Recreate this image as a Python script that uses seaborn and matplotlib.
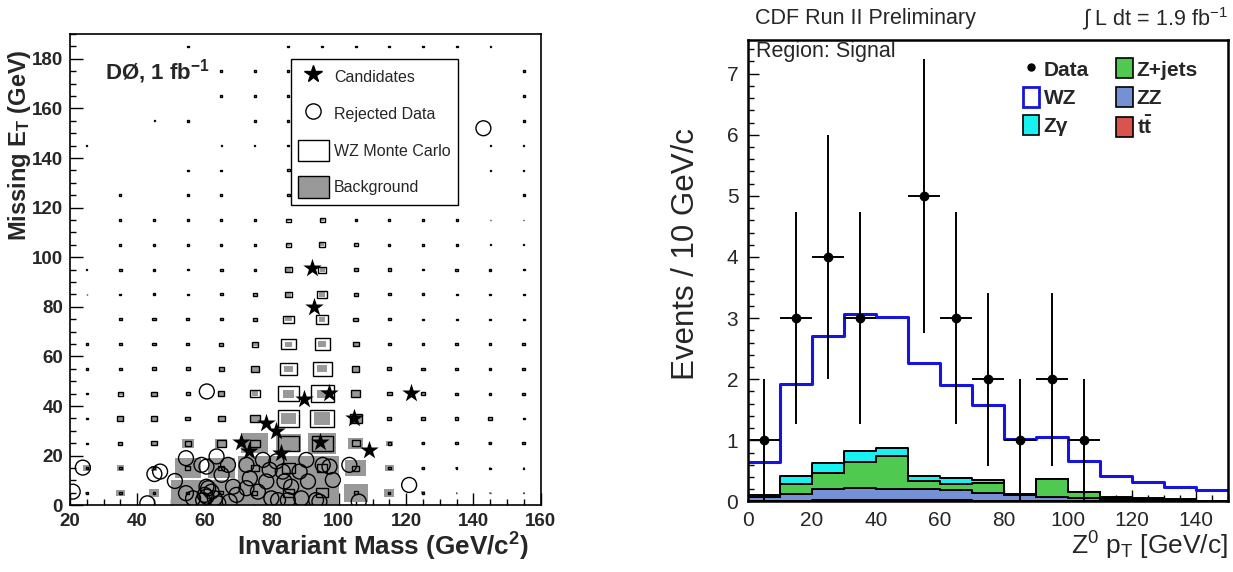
import numpy as np
import pandas as pd
import matplotlib
matplotlib.use("Agg")
import matplotlib.pyplot as plt
from matplotlib.lines import Line2D
from matplotlib.patches import Patch
from matplotlib.ticker import MultipleLocator
import seaborn as sns

# ---------------------------------------------------------------- data ----
# Left: D0 missing E_T vs invariant mass (10 GeV x 10 GeV cells)
mass_centers = [25, 35, 45, 55, 65, 75, 85, 95, 105, 115, 125, 135, 145, 155]
met_centers = [5, 15, 25, 35, 45, 55, 65, 75, 85, 95, 105, 115, 125, 135,
               145, 155, 165, 175, 185]

# background content per cell (relative to the largest cell), rows = MET bins
bkg_content = [
    [0.08, 0.25, 0.30, 1.00, 1.00, 1.00, 1.00, 1.00, 0.72, 0.30, 0.12, 0.05, 0.05, 0.05],
    [0.25, 0.22, 0.20, 0.78, 0.80, 1.00, 1.00, 1.00, 0.64, 0.25, 0.12, 0.08, 0.06, 0.06],
    [0.06, 0.12, 0.16, 0.35, 0.37, 0.80, 0.72, 0.84, 0.45, 0.20, 0.10, 0.10, 0.10, 0.10],
    [0.06, 0.18, 0.18, 0.14, 0.20, 0.30, 0.45, 0.49, 0.35, 0.12, 0.10, 0.10, 0.10, 0.06],
    [0.06, 0.14, 0.16, 0.12, 0.18, 0.20, 0.32, 0.33, 0.27, 0.14, 0.10, 0.08, 0.08, 0.08],
    [0.06, 0.08, 0.12, 0.12, 0.16, 0.22, 0.25, 0.28, 0.22, 0.12, 0.10, 0.08, 0.08, 0.08],
    [0.06, 0.08, 0.10, 0.10, 0.12, 0.18, 0.20, 0.22, 0.17, 0.10, 0.08, 0.08, 0.08, 0.08],
    [0.00, 0.08, 0.10, 0.08, 0.10, 0.12, 0.18, 0.20, 0.14, 0.08, 0.06, 0.06, 0.06, 0.06],
    [0.02, 0.06, 0.08, 0.06, 0.08, 0.10, 0.17, 0.17, 0.12, 0.08, 0.08, 0.06, 0.05, 0.06],
    [0.03, 0.08, 0.08, 0.06, 0.08, 0.08, 0.15, 0.15, 0.12, 0.10, 0.06, 0.08, 0.08, 0.06],
    [0.00, 0.06, 0.06, 0.06, 0.06, 0.06, 0.10, 0.12, 0.10, 0.06, 0.06, 0.06, 0.03, 0.03],
    [0.00, 0.06, 0.06, 0.06, 0.06, 0.06, 0.08, 0.10, 0.06, 0.06, 0.06, 0.06, 0.03, 0.03],
    [0.00, 0.06, 0.00, 0.06, 0.06, 0.00, 0.08, 0.06, 0.06, 0.06, 0.06, 0.00, 0.00, 0.06],
    [0.00, 0.00, 0.00, 0.06, 0.06, 0.00, 0.06, 0.00, 0.00, 0.00, 0.00, 0.00, 0.03, 0.03],
    [0.03, 0.00, 0.00, 0.00, 0.03, 0.03, 0.06, 0.00, 0.00, 0.00, 0.00, 0.00, 0.03, 0.03],
    [0.00, 0.00, 0.03, 0.06, 0.00, 0.06, 0.06, 0.00, 0.00, 0.00, 0.00, 0.00, 0.00, 0.06],
    [0.00, 0.00, 0.00, 0.00, 0.06, 0.06, 0.06, 0.00, 0.00, 0.00, 0.00, 0.00, 0.00, 0.06],
    [0.00, 0.00, 0.00, 0.00, 0.06, 0.06, 0.06, 0.00, 0.00, 0.00, 0.00, 0.00, 0.00, 0.06],
    [0.00, 0.00, 0.00, 0.06, 0.00, 0.00, 0.06, 0.06, 0.06, 0.06, 0.06, 0.06, 0.03, 0.00],
]

# WZ Monte Carlo content per cell (relative to the largest cell)
wz_content = [
    [0.05, 0.08, 0.08, 0.10, 0.12, 0.15, 0.35, 0.37, 0.12, 0.06, 0.05, 0.03, 0.03, 0.03],
    [0.06, 0.08, 0.08, 0.15, 0.18, 0.25, 0.40, 0.30, 0.20, 0.08, 0.06, 0.05, 0.04, 0.04],
    [0.06, 0.12, 0.16, 0.18, 0.28, 0.30, 0.62, 0.62, 0.25, 0.10, 0.08, 0.08, 0.08, 0.08],
    [0.06, 0.18, 0.18, 0.14, 0.20, 0.32, 0.65, 0.72, 0.35, 0.12, 0.10, 0.10, 0.10, 0.06],
    [0.06, 0.16, 0.16, 0.12, 0.18, 0.28, 0.63, 0.68, 0.27, 0.14, 0.10, 0.08, 0.08, 0.08],
    [0.06, 0.08, 0.12, 0.12, 0.16, 0.22, 0.51, 0.57, 0.22, 0.12, 0.10, 0.08, 0.08, 0.08],
    [0.06, 0.08, 0.10, 0.10, 0.12, 0.20, 0.42, 0.45, 0.17, 0.10, 0.08, 0.08, 0.08, 0.08],
    [0.00, 0.08, 0.10, 0.08, 0.10, 0.12, 0.30, 0.35, 0.14, 0.08, 0.06, 0.06, 0.06, 0.06],
    [0.02, 0.06, 0.08, 0.06, 0.08, 0.10, 0.22, 0.29, 0.12, 0.08, 0.08, 0.06, 0.05, 0.06],
    [0.03, 0.08, 0.08, 0.06, 0.08, 0.08, 0.18, 0.24, 0.12, 0.10, 0.06, 0.08, 0.08, 0.06],
    [0.00, 0.06, 0.06, 0.06, 0.06, 0.06, 0.15, 0.20, 0.12, 0.06, 0.06, 0.06, 0.03, 0.03],
    [0.00, 0.06, 0.06, 0.06, 0.06, 0.06, 0.12, 0.15, 0.06, 0.06, 0.06, 0.06, 0.03, 0.03],
    [0.00, 0.06, 0.00, 0.06, 0.06, 0.00, 0.10, 0.06, 0.06, 0.06, 0.06, 0.00, 0.00, 0.06],
    [0.00, 0.00, 0.00, 0.06, 0.06, 0.00, 0.08, 0.00, 0.00, 0.00, 0.00, 0.00, 0.03, 0.03],
    [0.03, 0.00, 0.00, 0.00, 0.03, 0.03, 0.06, 0.00, 0.00, 0.00, 0.00, 0.00, 0.03, 0.03],
    [0.00, 0.00, 0.03, 0.06, 0.00, 0.06, 0.06, 0.00, 0.00, 0.00, 0.00, 0.00, 0.00, 0.06],
    [0.00, 0.00, 0.00, 0.00, 0.06, 0.06, 0.06, 0.00, 0.00, 0.00, 0.00, 0.00, 0.00, 0.06],
    [0.00, 0.00, 0.00, 0.00, 0.06, 0.06, 0.06, 0.00, 0.00, 0.00, 0.00, 0.00, 0.00, 0.06],
    [0.00, 0.00, 0.00, 0.06, 0.00, 0.00, 0.06, 0.06, 0.06, 0.06, 0.06, 0.06, 0.03, 0.00],
]

# selected candidates (mass, missing E_T)
cand_mass = [92.0, 92.7, 89.6, 97.2, 121.6, 104.4, 78.4, 81.4, 71.0, 73.3, 82.7, 94.4, 109.1]
cand_met = [95.5, 80.0, 42.9, 45.1, 45.3, 35.0, 33.2, 30.0, 25.7, 21.7, 21.0, 25.7, 22.4]

# rejected events (mass, missing E_T)
rej_mass = [143.0, 60.7, 120.9, 23.8, 20.8, 43.0, 45.1, 46.8, 54.5, 51.2, 59.1,
            54.5, 56.6, 60.6, 60.6, 59.6, 63.6, 60.6, 67.0, 65.1, 61.1, 62.1,
            60.1, 63.1, 64.1, 68.5, 69.5, 67.5, 72.5, 73.5, 72.5, 75.9, 77.4,
            79.4, 78.4, 79.9, 81.9, 81.4, 83.3, 83.8, 85.8, 84.8, 88.3, 90.3,
            88.8, 90.8, 93.2, 95.2, 97.2, 98.2, 94.2, 103.1, 105.9]
rej_met = [152.0, 45.9, 8.2, 15.2, 5.5, 0.8, 12.6, 13.6, 19.0, 9.8, 16.3,
           4.9, 2.8, 7.5, 3.5, 2.1, 19.7, 15.6, 16.3, 12.3, 6.9, 5.5,
           4.2, 2.8, 0.8, 7.5, 4.2, 1.5, 16.3, 10.9, 6.9, 5.5, 18.3,
           14.3, 9.6, 2.8, 2.1, 17.7, 13.6, 9.6, 7.5, 2.1, 13.6, 18.3,
           2.8, 9.6, 2.1, 16.3, 15.6, 10.2, 1.5, 16.3, 1.5]

# Right: CDF Z0 pT in the signal region, 10 GeV/c bins from 0 to 150
pt_edges = [0, 10, 20, 30, 40, 50, 60, 70, 80, 90, 100, 110, 120, 130, 140, 150]
pt_centers = [5, 15, 25, 35, 45, 55, 65, 75, 85, 95, 105, 115, 125, 135, 145]
wz_signal = [0.65, 1.93, 2.70, 3.06, 3.01, 2.26, 1.90, 1.58, 1.02, 1.05, 0.67, 0.42, 0.32, 0.23, 0.18]
zgamma = [0.03, 0.14, 0.17, 0.17, 0.13, 0.07, 0.10, 0.05, 0.01, 0.00, 0.00, 0.01, 0.01, 0.01, 0.00]
zjets = [0.01, 0.15, 0.26, 0.43, 0.54, 0.14, 0.10, 0.165, 0.01, 0.29, 0.10, 0.03, 0.02, 0.01, 0.00]
zz = [0.06, 0.12, 0.17, 0.19, 0.18, 0.17, 0.16, 0.125, 0.09, 0.07, 0.04, 0.03, 0.02, 0.02, 0.00]
ttbar = [0.01, 0.01, 0.03, 0.03, 0.03, 0.03, 0.02, 0.01, 0.01, 0.01, 0.01, 0.00, 0.00, 0.00, 0.00]
data_counts = [1, 3, 4, 3, 0, 5, 3, 2, 1, 2, 1, 0, 0, 0, 0]

# --------------------------------------------------------------- style ----
sns.set_theme(style="ticks")
plt.rcParams["font.family"] = ["Liberation Sans", "DejaVu Sans"]
plt.rcParams["mathtext.fontset"] = "custom"
plt.rcParams["mathtext.rm"] = "Liberation Sans"
plt.rcParams["mathtext.bf"] = "Liberation Sans:bold"
plt.rcParams["mathtext.it"] = "Liberation Sans:italic"
plt.rcParams["mathtext.default"] = "regular"

fig = plt.figure(figsize=(12.33, 5.72), dpi=100)
axL = fig.add_axes([0.0568, 0.1166, 0.3816, 0.824])
axR = fig.add_axes([0.6067, 0.1233, 0.3893, 0.8068])

# ---------------------------------------------------------- left panel ----
bkg = np.array(bkg_content)
wzc = np.array(wz_content)
MM, EE = np.meshgrid(mass_centers, met_centers)
cell = 10.0

m = bkg > 0
axL.bar(MM[m], bkg[m] * cell, width=bkg[m] * cell, bottom=EE[m] - bkg[m] * cell / 2,
        color="#999999", linewidth=0, zorder=1)
m = wzc > 0
axL.bar(MM[m], wzc[m] * cell, width=wzc[m] * cell, bottom=EE[m] - wzc[m] * cell / 2,
        fill=False, edgecolor="black", linewidth=1.0, zorder=2)

axL.scatter(rej_mass, rej_met, s=115, facecolors="none", edgecolors="black",
            linewidths=1.0, zorder=3)
sns.scatterplot(x=cand_mass, y=cand_met, marker="*", s=195, color="black",
                edgecolor="black", linewidth=0, ax=axL, zorder=4)

axL.set_xlim(20, 160)
axL.set_ylim(0, 190)
axL.xaxis.set_major_locator(MultipleLocator(20))
axL.xaxis.set_minor_locator(MultipleLocator(5))
axL.yaxis.set_major_locator(MultipleLocator(20))
axL.yaxis.set_minor_locator(MultipleLocator(5))
axL.tick_params(which="both", direction="in", top=False, right=False,
                bottom=True, left=True, color="black", width=1.0)
axL.tick_params(which="major", length=9, labelsize=13.5)
axL.tick_params(axis="x", which="major", pad=5.5)
axL.tick_params(axis="y", which="major", pad=5)
axL.tick_params(which="minor", length=4.5)
for lab in axL.get_xticklabels() + axL.get_yticklabels():
    lab.set_fontweight("bold")
for sp in axL.spines.values():
    sp.set_visible(True)
    sp.set_color("black")
    sp.set_linewidth(1.2)

axL.set_xlabel(r"Invariant Mass (GeV/c$^{\mathbf{2}}$)", fontsize=18.8,
               fontweight="bold", loc="right")
axL.xaxis.set_label_coords(0.975, -0.054)
axL.set_ylabel(r"Missing E$_{\mathbf{T}}$ (GeV)", fontsize=17,
               fontweight="bold", loc="top")
axL.yaxis.set_label_coords(-0.079, 0.968)

axL.text(30.5, 175, r"DØ, 1 fb$^{\mathbf{-1}}$", fontsize=16, fontweight="bold",
         ha="left", va="center")

leg_handles = [
    Line2D([], [], marker="*", color="black", ls="none", markersize=13),
    Line2D([], [], marker="o", markerfacecolor="none", markeredgecolor="black",
           ls="none", markersize=11, markeredgewidth=1.0),
    Patch(facecolor="white", edgecolor="black", linewidth=1.0),
    Patch(facecolor="#999999", edgecolor="black", linewidth=1.0),
]
leg_labels = ["Candidates", "Rejected Data", "WZ Monte Carlo", "Background"]
legL = axL.legend(leg_handles, leg_labels, loc="upper left",
                  bbox_to_anchor=(0.4697, 0.947), borderaxespad=0,
                  fontsize=11.5, frameon=True, fancybox=False,
                  handlelength=1.9, handleheight=1.7, handletextpad=0.35,
                  labelspacing=0.95, borderpad=0.45)
legL.get_frame().set_edgecolor("black")
legL.get_frame().set_linewidth(1.0)
legL.get_frame().set_alpha(1)
legL.set_zorder(10)

# --------------------------------------------------------- right panel ----
procs = ["Zγ", "Z+jets", "ZZ", "tt"]
stack_df = pd.DataFrame({
    "pt": pt_centers * 4,
    "events": zgamma + zjets + zz + ttbar,
    "process": [p for p in procs for _ in pt_centers],
})
palette = {"Zγ": "#19F0F0", "Z+jets": "#4FC94F", "ZZ": "#7391D3", "tt": "#D9534F"}
sns.histplot(data=stack_df, x="pt", weights="events", hue="process",
             hue_order=procs, multiple="stack", bins=pt_edges, element="step",
             palette=palette, alpha=1, edgecolor="black", linewidth=1.4,
             legend=False, ax=axR)

sns.histplot(x=pt_centers, weights=wz_signal, bins=pt_edges, element="step",
             fill=False, color="#1515DD", linewidth=2.2, ax=axR)

dc = np.array(data_counts, dtype=float)
pc = np.array(pt_centers, dtype=float)
sel = dc > 0
axR.errorbar(pc[sel], dc[sel], xerr=5, yerr=np.sqrt(dc[sel]), fmt="o",
             color="black", markersize=6, elinewidth=1.4, capsize=0, zorder=5)

axR.set_xlim(0, 150)
axR.set_ylim(0, 7.55)
axR.xaxis.set_major_locator(MultipleLocator(20))
axR.xaxis.set_minor_locator(MultipleLocator(5))
axR.yaxis.set_major_locator(MultipleLocator(1))
axR.yaxis.set_minor_locator(MultipleLocator(0.2))
axR.tick_params(which="both", direction="in", top=False, right=False,
                bottom=True, left=True, color="black", width=1.0)
axR.tick_params(which="major", length=8, labelsize=15, pad=7)
axR.tick_params(which="minor", length=4)
for sp in axR.spines.values():
    sp.set_visible(True)
    sp.set_color("black")
    sp.set_linewidth(1.8)

axR.set_xlabel(r"Z$^{0}$ p$_{T}$ [GeV/c]", fontsize=19, loc="right")
axR.xaxis.set_label_coords(1.0, -0.062)
axR.set_ylabel("Events / 10 GeV/c", fontsize=22.5, loc="top")
axR.yaxis.set_label_coords(-0.099, 0.81)

axR.text(0.017, 0.974, "Region: Signal", transform=axR.transAxes,
         fontsize=15.5, ha="left", va="center")
fig.text(0.612, 0.968, "CDF Run II Preliminary", fontsize=15.5, ha="left", va="center")
fig.text(0.996, 0.968, r"$\int$ L dt = 1.9 fb$^{-1}$", fontsize=15.5, ha="right",
         va="center")

r_handles = [
    Line2D([], [], marker="o", color="black", ls="none", markersize=5),
    Patch(facecolor="white", edgecolor="#1515DD", linewidth=2),
    Patch(facecolor=palette["Zγ"], edgecolor="black", linewidth=1.2),
    Patch(facecolor=palette["Z+jets"], edgecolor="black", linewidth=1.2),
    Patch(facecolor=palette["ZZ"], edgecolor="black", linewidth=1.2),
    Patch(facecolor=palette["tt"], edgecolor="black", linewidth=1.2),
]
r_labels = ["Data", "WZ", "Zγ", "Z+jets", "ZZ", r"t$\bar{\mathbf{t}}$"]
legR = axR.legend(r_handles, r_labels, ncol=2, loc="upper left",
                  bbox_to_anchor=(0.555, 0.978), frameon=False,
                  prop={"weight": "bold", "size": 15}, handlelength=0.8,
                  handleheight=1.1, handletextpad=0.2, columnspacing=1.3,
                  labelspacing=0.35, borderaxespad=0)

fig.savefig("out.png", dpi=100)
